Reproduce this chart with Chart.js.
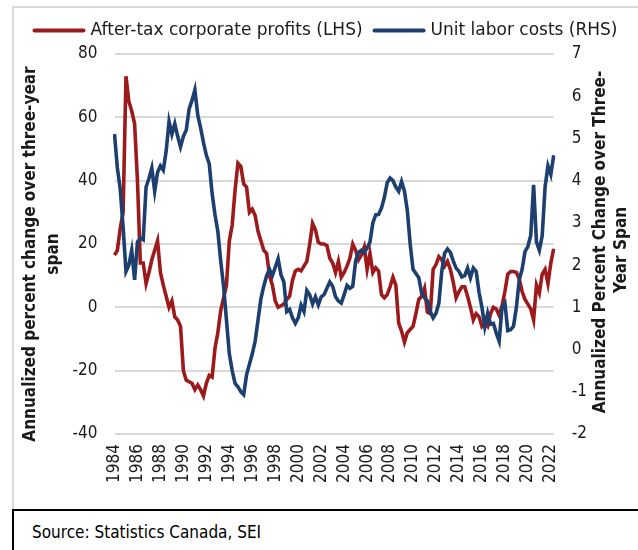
<!DOCTYPE html>
<html><head><meta charset="utf-8">
<script src="https://cdn.jsdelivr.net/npm/chart.js@4.4.1/dist/chart.umd.min.js"></script>
<style>
html,body{margin:0;padding:0;background:#fff;width:638px;height:550px;overflow:hidden;font-family:"DejaVu Sans Condensed","DejaVu Sans",sans-serif;}
#c{position:absolute;left:0;top:0;}
#frame{position:absolute;left:12px;top:6px;width:640px;height:510px;border-top:2px solid #d9d9d9;border-left:2px solid #d9d9d9;}
#src{position:absolute;left:12px;top:509px;width:640px;height:50px;border-top:2px solid #000;border-left:2px solid #000;font-size:17px;color:#000;}
#src span{position:absolute;left:18px;top:11px;white-space:nowrap;}
</style></head>
<body>
<div id="frame"></div>
<canvas id="c" width="638" height="509"></canvas>
<div id="src"><span>Source: Statistics Canada, SEI</span></div>
<script>
// Quarterly categories, 1984Q1 .. 2022Q2
const years = [];
for (let y = 1984; y <= 2022; y++) years.push(y);
const categories = [];
years.forEach(y => ['Q1','Q2','Q3','Q4'].forEach(q => categories.push(y + ' ' + q)));
categories.length = 154;

const tickYears = ['1984','1986','1988','1990','1992','1994','1996','1998','2000','2002','2004','2006','2008','2010','2012','2014','2016','2018','2020','2022'];

const profitsLabel = 'After-tax corporate profits (LHS)';
const laborLabel = 'Unit labor costs (RHS)';

const profits = [
  16.5, 18, 25, 30, 73, 65, 62, 58, 40, 14,
  14, 7.5, 11, 15, 18, 21, 11, 7, 3.5, 0,
  2, -3, -4, -6, -20, -23, -23.5, -24, -26, -24.5,
  -26, -28, -24, -21.5, -22, -13, -8, -1, 3, 7,
  21, 26, 37, 45.5, 44.5, 39, 38, 30, 31, 29,
  24, 21, 18, 17, 10, 7, 2, 0, 0.5, 1,
  2.5, 3.5, 8.5, 11.5, 12, 11.5, 13, 14.5, 20, 26.5,
  24.5, 20.5, 20, 20, 19.5, 15.5, 14, 11, 14.5, 9.5,
  11, 13, 15.5, 20, 18, 15, 16.5, 19, 12, 17,
  11, 12.5, 11.5, 4, 3, 4, 6.5, 9.5, 7, -5,
  -7.5, -11, -8, -7, -6, -2, 2.5, 3.5, 6, -1.5,
  -2, 12, 13.5, 16, 15, 13, 14.5, 12, 8, 3,
  5, 6.5, 6.5, 3.5, 0, -4, -2, -3, -6, -5,
  -6, -2, 0, -0.5, -2.5, 0.5, 5, 10.5, 11.3, 11.3,
  11, 9, 5, 2.5, 1, -0.5, -4, 7, 4.5, 10.5,
  12, 7.5, 14, 18.5
];

const laborCosts = [
  5.1, 4.3, 3.8, 2.9, 1.85, 2.0, 2.35, 1.65, 2.55, 2.64,
  2.6, 3.85, 4.05, 4.3, 3.75, 4.2, 4.35, 4.25, 4.7, 5.4,
  5.1, 5.35, 5.05, 4.8, 5.05, 5.2, 5.7, 5.9, 6.15, 5.55,
  5.25, 4.9, 4.6, 4.4, 3.7, 3.2, 2.8, 2.1, 1.5, 0.7,
  -0.1, -0.5, -0.8, -0.88, -1.0, -1.07, -0.6, -0.35, -0.1, 0.2,
  0.7, 1.2, 1.5, 1.75, 1.9, 1.75, 1.95, 2.15, 1.77, 1.6,
  0.9, 0.95, 0.75, 0.62, 0.75, 1.05, 0.9, 1.4, 1.3, 1.08,
  1.25, 1.06, 1.25, 1.3, 1.45, 1.6, 1.5, 1.25, 1.15, 1.1,
  1.3, 1.52, 1.45, 1.5, 2.1, 2.3, 2.35, 2.3, 2.4, 2.55,
  3.0, 3.19, 3.2, 3.35, 3.6, 3.95, 4.06, 4.0, 3.85, 3.75,
  3.98, 3.75, 3.3, 2.5, 1.9, 1.8, 1.7, 1.33, 1.23, 1.15,
  0.9, 0.75, 0.86, 1.1, 1.85, 2.28, 2.38, 2.3, 2.1, 1.93,
  1.85, 1.72, 1.75, 1.93, 1.7, 1.93, 1.85, 1.35, 1.0, 0.54,
  0.86, 0.6, 0.62, 0.39, 0.2, 1.0, 1.1, 0.45, 0.47, 0.55,
  1.0, 1.65, 1.9, 2.32, 2.44, 2.7, 3.9, 2.55, 2.35, 2.7,
  3.85, 4.35, 4.15, 4.6
];

const leftTicks = [-40, -20, 0, 20, 40, 60, 80];
const rightTicks = [-2, -1, 0, 1, 2, 3, 4, 5, 6, 7];
const leftTitle = ['Annualized percent change over three-year', 'span'];
const rightTitle = ['Annualized Percent Change over Three-', 'Year Span'];

const RED = '#9d1a1c';
const BLUE = '#1d3f6f';
const FONT = '"DejaVu Sans Condensed", "DejaVu Sans", sans-serif';
const LEGEND_FONT = '"DejaVu Sans", sans-serif';

const decor = {
  id: 'decor',
  afterDraw(chart) {
    const ctx = chart.ctx;
    ctx.save();
    // legend
    ctx.font = '17px ' + LEGEND_FONT;
    ctx.textBaseline = 'middle';
    const boxW = 53, gap = 5, itemGap = 10, ly = 30.5;
    const items = chart.data.datasets.map(d => ({text: d.label, color: d.borderColor, w: ctx.measureText(d.label).width}));
    let total = 0;
    items.forEach((it, i) => { total += boxW + gap + it.w + (i ? itemGap : 0); });
    let x = 325 - total / 2;
    items.forEach((it, i) => {
      if (i) x += itemGap;
      ctx.strokeStyle = it.color;
      ctx.lineWidth = 4;
      ctx.lineCap = 'round';
      ctx.beginPath(); ctx.moveTo(x + 2, ly); ctx.lineTo(x + boxW - 2, ly); ctx.stroke();
      x += boxW + gap;
      ctx.fillStyle = '#1a1a1a';
      ctx.textAlign = 'left';
      ctx.fillText(it.text, x, ly);
      x += it.w;
    });
    // axis titles
    ctx.font = 'bold 17px ' + FONT;
    ctx.fillStyle = '#1a1a1a';
    ctx.textAlign = 'center';
    const drawTitle = (lines, xs, ys) => {
      lines.forEach((t, i) => {
        ctx.save();
        ctx.translate(xs[i], ys[i]);
        ctx.rotate(-Math.PI / 2);
        ctx.fillText(t, 0, 0);
        ctx.restore();
      });
    };
    drawTitle(leftTitle, [31, 54], [254, 254]);
    drawTitle(rightTitle, [601, 622], [242, 250]);
    ctx.restore();
  }
};

new Chart(document.getElementById('c'), {
  type: 'line',
  data: {
    labels: categories,
    datasets: [
      {label: profitsLabel, data: profits, yAxisID: 'y', borderColor: RED, backgroundColor: RED, borderWidth: 3.6, pointRadius: 0, tension: 0, order: 2},
      {label: laborLabel, data: laborCosts, yAxisID: 'y1', borderColor: BLUE, backgroundColor: BLUE, borderWidth: 3.6, pointRadius: 0, tension: 0, order: 1}
    ]
  },
  options: {
    responsive: false,
    animation: false,
    devicePixelRatio: 1,
    layout: {padding: {top: 54, left: 0, right: 0, bottom: 0}},
    plugins: {legend: {display: false}, tooltip: {enabled: false}},
    scales: {
      x: {
        type: 'category',
        grid: {display: false, drawTicks: false},
        border: {display: false},
        afterFit(s) { s.height = 75; },
        ticks: {
          autoSkip: false, minRotation: 90, maxRotation: 90, padding: 10,
          color: '#1a1a1a', font: {family: FONT, size: 17},
          callback(v) {
            const lbl = this.getLabelForValue(v);
            const [yr, q] = lbl.split(' ');
            return (q === 'Q1' && tickYears.includes(yr)) ? yr : null;
          }
        }
      },
      y: {
        position: 'left', min: -40, max: 80,
        afterFit(s) { s.width = 114.5; },
        afterBuildTicks(s) { s.ticks = leftTicks.map(v => ({value: v})); },
        grid: {color: '#d9d9d9', lineWidth: 2, drawTicks: false},
        border: {display: false},
        ticks: {padding: 17, color: '#1a1a1a', font: {family: FONT, size: 17}}
      },
      y1: {
        position: 'right', min: -2, max: 7,
        afterFit(s) { s.width = 84.3; },
        afterBuildTicks(s) { s.ticks = rightTicks.map(v => ({value: v})); },
        grid: {display: false, drawTicks: false},
        border: {display: false},
        ticks: {padding: 18, color: '#1a1a1a', font: {family: FONT, size: 17}}
      }
    }
  },
  plugins: [decor]
});
</script>
</body></html>
